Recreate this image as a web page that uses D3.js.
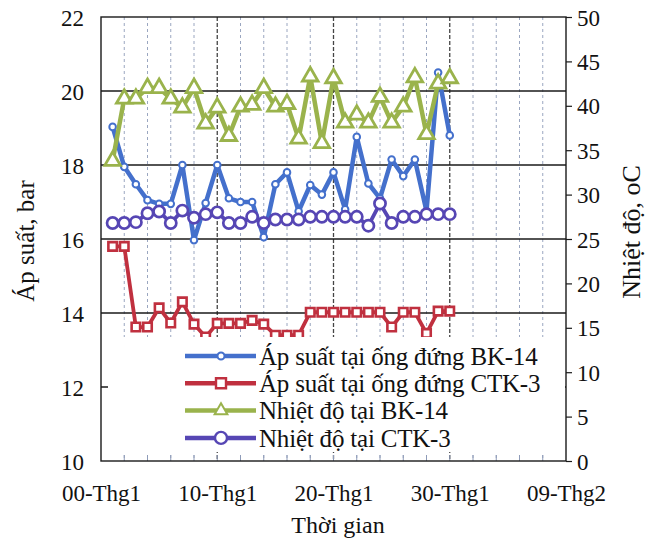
<!DOCTYPE html>
<html><head><meta charset="utf-8">
<script src="https://cdn.jsdelivr.net/npm/d3@7"></script>
<style>html,body{margin:0;padding:0;background:#fff}svg{display:block}</style>
</head><body><svg id="c" width="654" height="542"></svg>
<script>
const days = [1,2,3,4,5,6,7,8,9,10,11,12,13,14,15,16,17,18,19,20,21,22,23,24,25,26,27,28,29,30];
const pressBK14 = [19.03,17.95,17.48,17.05,16.95,16.95,18.0,15.97,16.97,18.0,17.1,17.0,17.0,16.05,17.48,17.8,16.75,17.46,17.2,17.8,16.8,18.76,17.5,17.1,18.15,17.7,18.15,16.75,20.5,18.8];
const pressCTK3 = [15.8,15.8,13.62,13.62,14.14,13.73,14.3,13.7,13.35,13.72,13.72,13.72,13.8,13.7,13.4,13.4,13.4,14.02,14.02,14.02,14.02,14.02,14.02,14.02,13.62,14.02,14.02,13.45,14.05,14.05];
const tempBK14 = [33.8,40.8,40.8,42.0,42.0,40.8,39.8,42.0,38.0,39.8,36.6,39.9,40.1,42.0,39.9,40.2,36.3,43.3,35.8,43.1,38.1,39.0,38.1,41.0,38.1,39.9,43.2,36.8,42.5,43.1];
const tempCTK3 = [26.8,26.8,26.9,27.9,28.1,26.8,28.2,27.4,27.8,28.0,26.8,26.8,27.5,26.8,27.2,27.2,27.2,27.5,27.5,27.5,27.5,27.5,26.5,29.0,26.8,27.5,27.5,27.8,27.8,27.8];
const xTickVals = [0,10,20,30,40];
const xTickLabels = ["00-Thg1","10-Thg1","20-Thg1","30-Thg1","09-Thg2"];
const leftTicks = [10,12,14,16,18,20,22];
const rightTicks = [0,5,10,15,20,25,30,35,40,45,50];
const seriesNames = ["Áp suất tại ống đứng BK-14","Áp suất tại ống đứng CTK-3","Nhiệt độ tại BK-14","Nhiệt độ tại CTK-3"];

const L=101,R=566,T=17,B=461;
const font="'Liberation Serif','Times New Roman',serif";
const svg=d3.select("#c");
const x=d3.scaleLinear().domain([0,40]).range([L,R]);
const yL=d3.scaleLinear().domain([10,22]).range([B,T]);
const yR=d3.scaleLinear().domain([0,50]).range([B,T]);

const minor=d3.range(2,40,2);
svg.append("g").selectAll("line").data(minor).join("line")
  .attr("x1",d=>x(d)).attr("x2",d=>x(d)).attr("y1",T).attr("y2",B)
  .attr("stroke",d=>d%10===0?"#444":"#9aa6c0")
  .attr("stroke-width",d=>d%10===0?1.3:1)
  .attr("stroke-dasharray",d=>d%10===0?"4,2":"3,3");
svg.append("g").selectAll("line").data(leftTicks.filter(d=>d>10&&d<22)).join("line")
  .attr("x1",L).attr("x2",R).attr("y1",d=>yL(d)).attr("y2",d=>yL(d))
  .attr("stroke","#1a1a1a").attr("stroke-width",1.4);

const colors={blue:"#4470cc",red:"#c0303f",green:"#9ab34c",purple:"#5646b4"};

function drawSeries(vals,scale,color,w,marker){
  const line=d3.line().x((d,i)=>x(days[i])).y(d=>scale(d));
  svg.append("path").datum(vals).attr("d",line).attr("fill","none")
    .attr("stroke",color).attr("stroke-width",w).attr("stroke-linejoin","round");
  const g=svg.append("g");
  vals.forEach((v,i)=>marker(g,x(days[i]),scale(v),color));
}
const mCircle=(r,sw)=>(g,cx,cy,c)=>g.append("circle").attr("cx",cx).attr("cy",cy).attr("r",r).attr("fill","#fff").attr("stroke",c).attr("stroke-width",sw);
const mSym=(type,size,sw)=>(g,cx,cy,c)=>g.append("path").attr("d",d3.symbol().type(type).size(size)()).attr("transform",`translate(${cx},${cy})`).attr("fill","#fff").attr("stroke",c).attr("stroke-width",sw);

drawSeries(pressBK14,yL,colors.blue,4.5,mCircle(3.3,2));
drawSeries(pressCTK3,yL,colors.red,3.8,mSym(d3.symbolSquare,72,2.6));
drawSeries(tempBK14,yR,colors.green,4.5,mSym(d3.symbolTriangle,105,2.8));
drawSeries(tempCTK3,yR,colors.purple,3.8,mCircle(5.6,2.7));

// legend
svg.append("rect").attr("x",108).attr("y",337).attr("width",R-108-1).attr("height",452-337).attr("fill","#fff");
const legMarkers=[mCircle(3.5,2),mSym(d3.symbolSquare,100,2.4),mSym(d3.symbolTriangle,70,2),mCircle(6,2.4)];
const legColors=[colors.blue,colors.red,colors.green,colors.purple];
seriesNames.forEach((n,i)=>{
  const yy=356+i*27.3;
  svg.append("line").attr("x1",185).attr("x2",256).attr("y1",yy).attr("y2",yy).attr("stroke",legColors[i]).attr("stroke-width",4.5);
  legMarkers[i](svg,221,yy,legColors[i]);
  svg.append("text").attr("x",259).attr("y",yy).attr("dy","0.35em").attr("font-family",font).attr("font-size",25).attr("letter-spacing","-0.2").attr("fill","#111").text(n);
});

svg.append("g").selectAll("line").data(minor).join("line")
  .attr("x1",d=>x(d)).attr("x2",d=>x(d)).attr("y1",B).attr("y2",B-6).attr("stroke","#8e9bb8").attr("stroke-width",1);

svg.append("rect").attr("x",L).attr("y",T).attr("width",R-L).attr("height",B-T).attr("fill","none").attr("stroke","#1a1a1a").attr("stroke-width",1.4);

const gl=svg.append("g").attr("transform",`translate(${L},0)`).call(d3.axisLeft(yL).tickValues(leftTicks).tickSize(0).tickPadding(17).tickFormat(d3.format("d")));
const gr=svg.append("g").attr("transform",`translate(${R},0)`).call(d3.axisRight(yR).tickValues(rightTicks).tickSize(6).tickPadding(5).tickFormat(d3.format("d")));
const gb=svg.append("g").attr("transform",`translate(0,${B})`).call(d3.axisBottom(x).tickValues(xTickVals).tickSize(0).tickPadding(24).tickFormat((d,i)=>xTickLabels[i]));
[gl,gr,gb].forEach(g=>{g.select(".domain").remove();g.selectAll("text").attr("font-family",font).attr("font-size",23).attr("fill","#111");g.selectAll("line").attr("stroke","#1a1a1a").attr("stroke-width",1.2);});
gl.selectAll("text").attr("dy","0.35em");
gr.selectAll("text").attr("dy","0.35em");

svg.append("text").attr("x",338).attr("y",533).attr("text-anchor","middle").attr("font-family",font).attr("font-size",24).attr("fill","#111").text("Thời gian");
svg.append("text").attr("transform","translate(34,241) rotate(-90)").attr("text-anchor","middle").attr("font-family",font).attr("font-size",25).attr("fill","#111").text("Áp suất, bar");
svg.append("text").attr("transform","translate(640,232) rotate(-90)").attr("text-anchor","middle").attr("font-family",font).attr("font-size",26).attr("fill","#111").text("Nhiệt độ, oC");
</script></body></html>
